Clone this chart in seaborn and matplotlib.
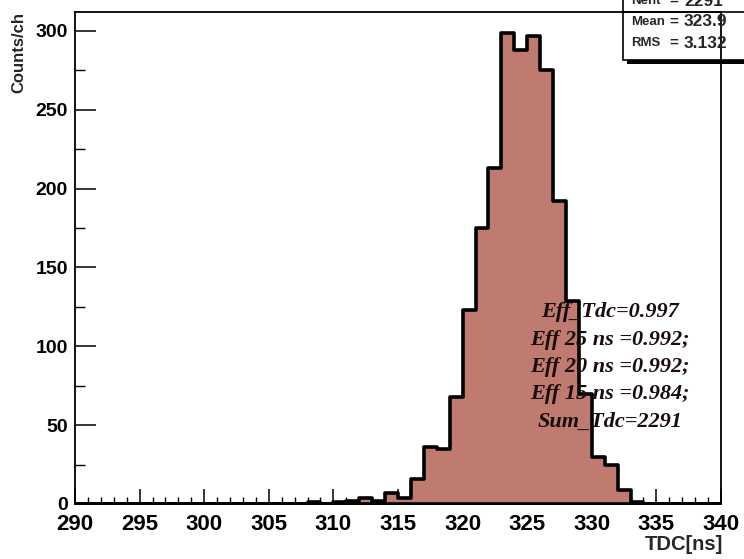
import numpy as np
import pandas as pd
import matplotlib
matplotlib.use("Agg")
import matplotlib.pyplot as plt
import seaborn as sns
from matplotlib.patches import Rectangle
from matplotlib.lines import Line2D
from matplotlib.ticker import MultipleLocator

# TDC histogram, 1 ns bins from 290 to 340
bin_left = list(range(290, 340))
counts = ([0] * 18 +
          [1, 0, 1, 2, 4, 2, 7, 4, 16, 36, 35, 68, 123, 175, 213,
           299, 288, 297, 275, 192, 129, 70, 30, 25, 9, 1] +
          [0] * 6)

stat_labels = ["Nent", "Mean", "RMS"]
stat_values = ["2291", "323.9", "3.132"]

eff_lines = ["Eff_Tdc=0.997", "Eff 25 ns =0.992;", "Eff 20 ns =0.992;",
             "Eff 15 ns =0.984;", "Sum_Tdc=2291"]

W, H = 744, 559


def fx(px):
    return px / W


def fy(py):
    return 1 - py / H


sns.set_style("ticks")
plt.rcParams['font.family'] = ['Liberation Sans', 'DejaVu Sans']
plt.rcParams['font.weight'] = 'bold'

fig = plt.figure(figsize=(W / 100, H / 100), dpi=100)
ax = fig.add_axes([fx(75), fy(504), (721 - 75) / W, (504 - 12) / H])

df = pd.DataFrame({"tdc": np.array(bin_left) + 0.5, "n": counts})
sns.histplot(data=df, x="tdc", weights="n", binwidth=1, binrange=(290, 340),
             element="step", fill=True, color="#bf7b70", alpha=1,
             edgecolor="black", linewidth=2.6, ax=ax)

ax.set_xlim(290, 340)
ax.set_ylim(0, 312)
ax.set_xlabel("")
ax.set_ylabel("")

ax.xaxis.set_major_locator(MultipleLocator(5))
ax.xaxis.set_minor_locator(MultipleLocator(1))
ax.yaxis.set_major_locator(MultipleLocator(50))
ax.yaxis.set_minor_locator(MultipleLocator(25))
ax.tick_params(axis="x", which="major", direction="in", length=11, width=1.1,
               labelsize=16, pad=7, labelcolor="black")
ax.tick_params(axis="x", which="minor", direction="in", length=5, width=1.0)
ax.tick_params(axis="y", which="major", direction="in", length=15, width=1.1,
               labelsize=14, pad=5, labelcolor="black")
ax.tick_params(axis="y", which="minor", direction="in", length=7, width=1.0)
ax.tick_params(top=False, right=False, which="both", color="black")
for s in ax.spines.values():
    s.set_visible(True)
    s.set_linewidth(1.3)
    s.set_color("black")

fig.text(fx(19), fy(12), "Counts/ch", rotation=90, ha="center", va="top",
         fontsize=12, fontweight="bold")
fig.text(fx(723), fy(544), "TDC[ns]", ha="right", va="center",
         fontsize=14.5, fontweight="bold")

# efficiency text block
for i, line in enumerate(eff_lines):
    ax.text(fx(610), fy(312 + i * 27.5), line, transform=fig.transFigure,
            ha="center", va="center", fontsize=16, color="#1a0c0c",
            family=["Liberation Serif", "DejaVu Serif"],
            fontstyle="italic", fontweight="bold", zorder=4)

# statistics box (partly outside the canvas, like the original)
box = Rectangle((fx(623), fy(60)), fx(W + 10) - fx(623), fy(-5) - fy(60),
                transform=fig.transFigure, facecolor="white",
                edgecolor="black", linewidth=1.2, clip_on=False, zorder=2)
ax.add_artist(box)
shadow = Rectangle((fx(627), fy(64)), fx(W + 10) - fx(627), fy(60) - fy(64),
                   transform=fig.transFigure, facecolor="black",
                   edgecolor="none", clip_on=False, zorder=2)
ax.add_artist(shadow)
ax.add_artist(Line2D([fx(623), fx(W)], [fy(12), fy(12)],
                     transform=fig.transFigure, color="black", lw=1.2,
                     clip_on=False, zorder=2.6))
for i, (lab, val) in enumerate(zip(stat_labels, stat_values)):
    yy = fy(1 + i * 21)
    ax.text(fx(631), yy, lab, transform=fig.transFigure, ha="left",
            va="center", fontsize=9.5, fontweight="bold", zorder=3)
    ax.text(fx(669), yy, "=", transform=fig.transFigure, ha="left",
            va="center", fontsize=11, fontweight="bold", zorder=3)
    ax.text(fx(684), yy, val, transform=fig.transFigure, ha="left",
            va="center", fontsize=12.5, fontweight="bold", zorder=3)

fig.savefig("out.png", dpi=100)
